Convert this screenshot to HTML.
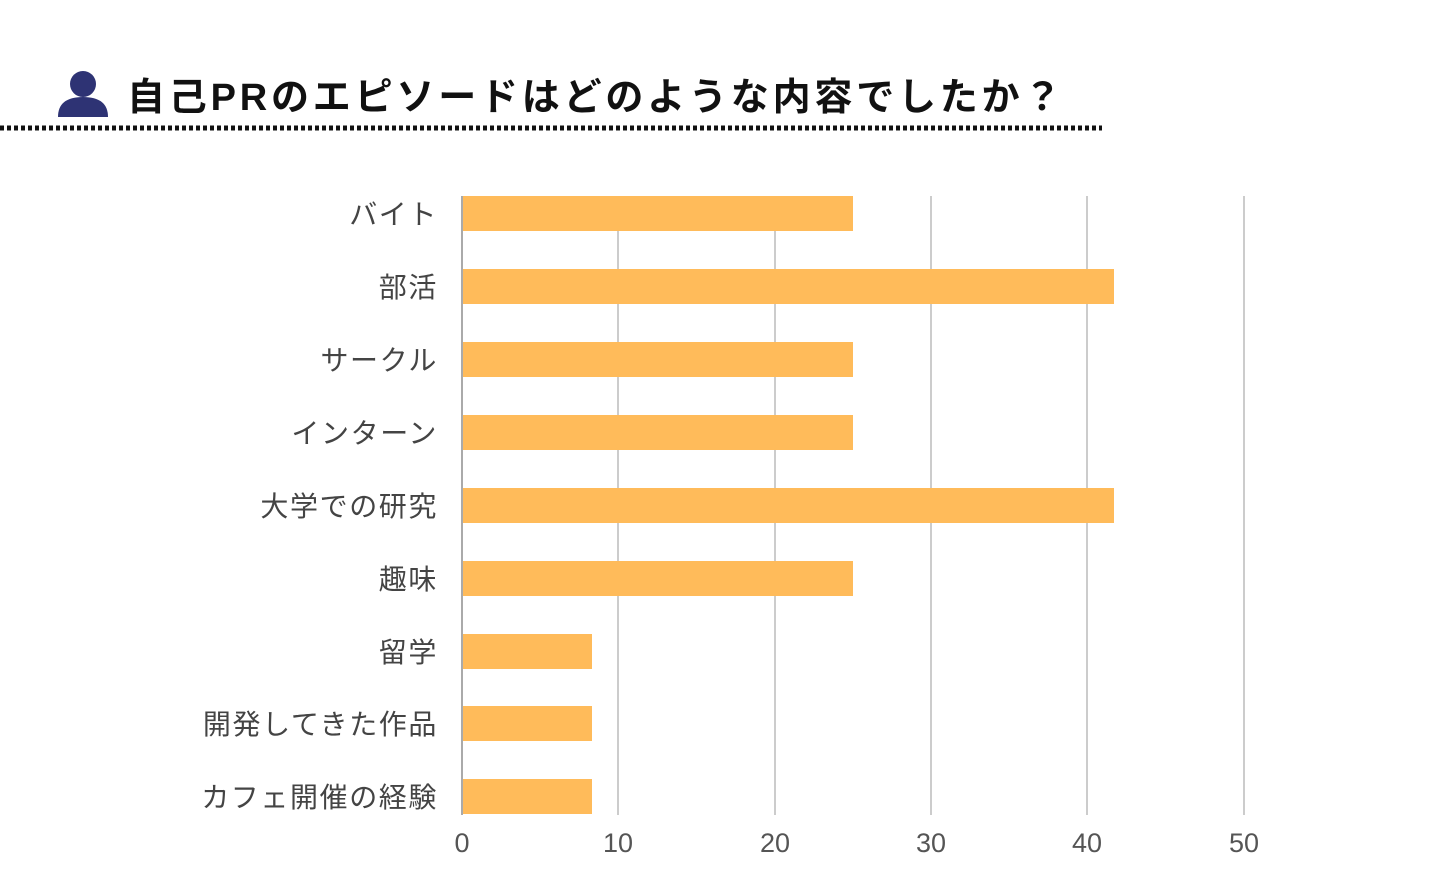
<!DOCTYPE html>
<html><head><meta charset="utf-8"><style>
html,body{margin:0;padding:0;background:#fff;width:1440px;height:878px;overflow:hidden}
svg{display:block}
.l{font-family:"Liberation Sans","Noto Sans CJK JP",sans-serif;font-size:28px;fill:#444;text-anchor:end;letter-spacing:1.6px}
.t{font-family:"Liberation Sans","Noto Sans CJK JP",sans-serif;font-size:27px;fill:#555;text-anchor:middle}
</style></head><body>
<svg width="1440" height="878" viewBox="0 0 1440 878">
<circle cx="83" cy="84" r="13" fill="#2e3374"/>
<path d="M58 117 Q58 97 83 97 Q108 97 108 117 Z" fill="#2e3374"/>
<text x="127" y="110" font-family="'Liberation Sans','Noto Sans CJK JP',sans-serif" font-size="38" font-weight="bold" fill="#111" letter-spacing="3.8">自己PRのエピソードはどのような内容でしたか？</text>
<line x1="0" y1="128" x2="1102" y2="128" stroke="#111" stroke-width="5" stroke-dasharray="4 3"/>
<g stroke="#ccc" stroke-width="2">
<line x1="618" y1="196" x2="618" y2="815"/><line x1="775" y1="196" x2="775" y2="815"/>
<line x1="931" y1="196" x2="931" y2="815"/><line x1="1087" y1="196" x2="1087" y2="815"/>
<line x1="1244" y1="196" x2="1244" y2="815"/>
</g>
<line x1="462" y1="196" x2="462" y2="815" stroke="#aaa" stroke-width="2"/>
<g fill="#ffbb5a">
<rect x="463" y="196" width="390" height="35"/>
<rect x="463" y="269" width="651" height="35"/>
<rect x="463" y="342" width="390" height="35"/>
<rect x="463" y="415" width="390" height="35"/>
<rect x="463" y="488" width="651" height="35"/>
<rect x="463" y="561" width="390" height="35"/>
<rect x="463" y="634" width="129" height="35"/>
<rect x="463" y="706" width="129" height="35"/>
<rect x="463" y="779" width="129" height="35"/>
</g>
<text x="438" y="224" class="l">バイト</text>
<text x="438" y="297" class="l">部活</text>
<text x="438" y="370" class="l">サークル</text>
<text x="438" y="443" class="l">インターン</text>
<text x="438" y="516" class="l">大学での研究</text>
<text x="438" y="589" class="l">趣味</text>
<text x="438" y="662" class="l">留学</text>
<text x="438" y="734" class="l">開発してきた作品</text>
<text x="438" y="807" class="l">カフェ開催の経験</text>
<text x="462" y="852" class="t">0</text>
<text x="618" y="852" class="t">10</text>
<text x="775" y="852" class="t">20</text>
<text x="931" y="852" class="t">30</text>
<text x="1087" y="852" class="t">40</text>
<text x="1244" y="852" class="t">50</text>
</svg>
</body></html>
